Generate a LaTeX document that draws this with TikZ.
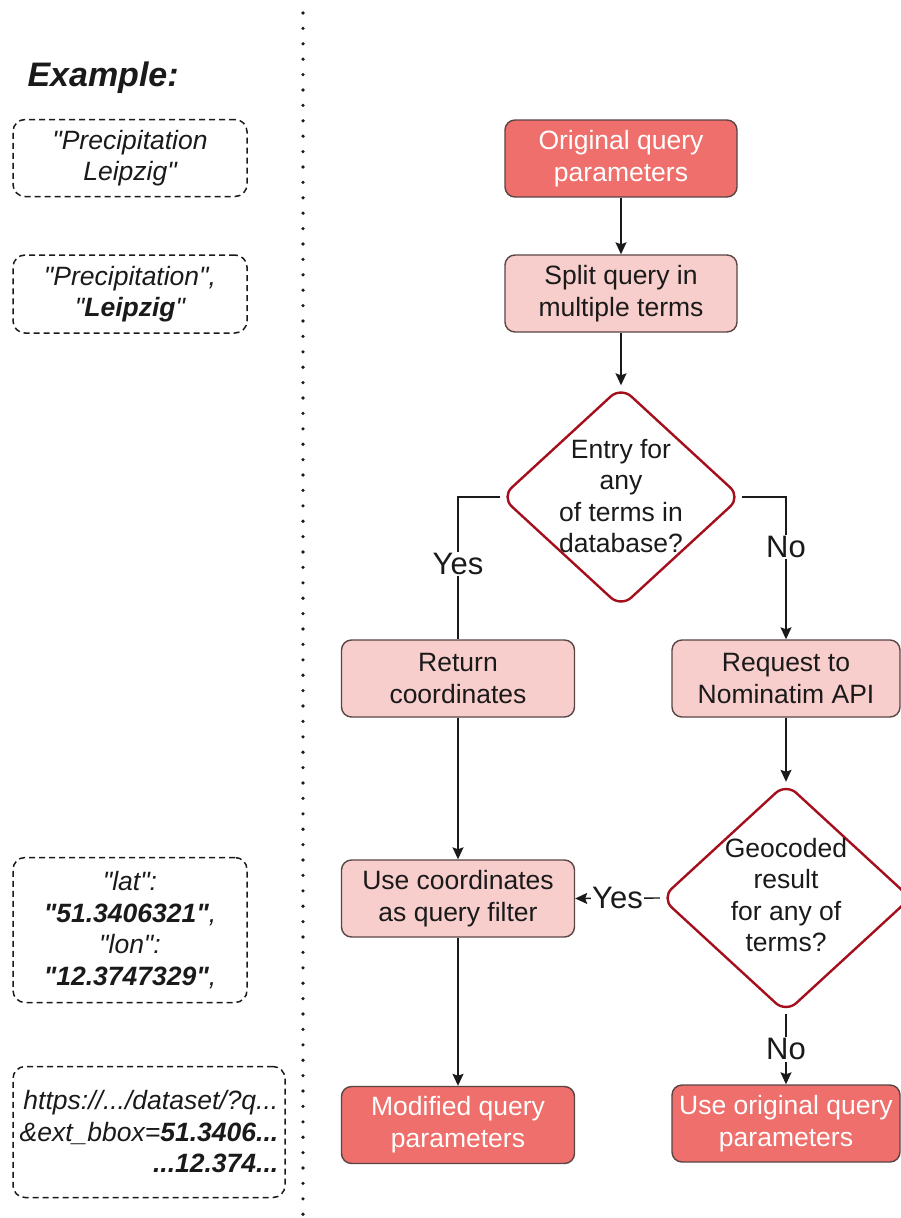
\documentclass[tikz,border=0pt]{standalone}
\usepackage{fontspec}
\setmainfont{Liberation Sans}[Ligatures=TeXOff]
\usetikzlibrary{shapes.geometric,arrows.meta}

\definecolor{boxdark}{HTML}{EE6F6B}
\definecolor{boxlight}{HTML}{F8CECC}
\definecolor{boxline}{HTML}{5A4545}
\definecolor{decline}{HTML}{A50F1C}
\definecolor{ink}{HTML}{1A1A1A}

\begin{document}
\begin{tikzpicture}[x=1pt,y=-1pt,
  every node/.style={font=\fontsize{26.5}{32}\selectfont, text=ink},
  procbox/.style={draw=boxline, line width=1.4pt, rounded corners=10pt,
    minimum width=232pt, minimum height=77pt, align=center, inner sep=0pt},
  lightbox/.style={procbox, fill=boxlight},
  darkbox/.style={procbox, fill=boxdark, text=white},
  decision/.style={shape=diamond, draw=decline, fill=white, line width=2.4pt,
    rounded corners=14pt, inner sep=0pt},
  dectext/.style={align=center, font=\fontsize{26.5}{31.5}\selectfont},
  note/.style={draw=ink, dash pattern=on 6pt off 4pt, line width=1.5pt,
    rounded corners=12pt, inner sep=0pt, align=center,
    font=\fontsize{26.5}{31.5}\selectfont\itshape},
  flow/.style={draw=ink, line width=1.4pt, -{Stealth[length=12pt,width=11pt,inset=2pt]}},
  plainflow/.style={draw=ink, line width=1.4pt},
  branch/.style={font=\fontsize{31}{31}\selectfont, fill=white, inner sep=1.5pt},
]
% canvas
\useasboundingbox (0,0) rectangle (901,1218);
\clip (0,0) rectangle (901,1218);
\fill[white] (0,0) rectangle (901,1218);

% separator between examples and flow
\draw[ink, line width=3.6pt, line cap=round, dash pattern=on 0pt off 15.4pt]
  (303,13) -- (303,1225);

% example column
\node[anchor=west, font=\fontsize{34}{40}\selectfont\bfseries\itshape]
  (extitle) at (24,78) {Example:};
\node[note, minimum width=234pt, minimum height=77pt] (ex1) at (130,158)
  {"Precipitation\\Leipzig"};
\node[note, minimum width=234pt, minimum height=78pt] (ex2) at (130,294)
  {"Precipitation",\\"\textbf{Leipzig}"};
\node[note, minimum width=234pt, minimum height=145pt] (ex3) at (130,930)
  {"lat":\\\textbf{"51.3406321"},\\"lon":\\\textbf{"12.3747329"},};
\node[note, minimum width=272pt, minimum height=131pt, align=right] (ex4) at (149,1132)
  {https://.../dataset/?q...\\\&ext\_bbox=\textbf{51.3406...}\\\textbf{...12.374...}};

% flow chart
\node[darkbox] (orig) at (621,158.5) {Original query\\parameters};
\node[lightbox] (split) at (621,293.5) {Split query in\\multiple terms};
\node[decision, minimum width=240pt, minimum height=221pt] (d1) at (621,497) {};
\node[dectext] (d1txt) at (621,496) {Entry for\\any\\of terms in\\database?};
\node[lightbox, minimum width=233pt] (ret) at (458,678.5) {Return\\coordinates};
\node[lightbox, minimum width=228pt] (req) at (786,678.5) {Request to\\Nominatim API};
\node[decision, minimum width=250pt, minimum height=230pt] (d2) at (786,898) {};
\node[dectext] (d2txt) at (786,895) {Geocoded\\result\\for any of\\terms?};
\node[lightbox, minimum width=233pt] (use) at (458,898.5) {Use coordinates\\as query filter};
\node[darkbox, minimum width=233pt] (mod) at (458,1125) {Modified query\\parameters};
\node[darkbox, minimum width=228pt] (keep) at (786,1123.5) {Use original query\\parameters};

% connectors
\draw[flow] (orig) -- (split);
\draw[flow] (split) -- (d1);
\draw[plainflow] (d1.west) -| node[branch, pos=0.736] {Yes} (ret.north);
\draw[flow] (d1.east) -| node[branch, pos=0.676] {No} (req.north);
\draw[flow] (req) -- (d2);
\draw[flow] (d2.west) -- node[branch] {Yes} (use.east);
\draw[flow] (d2.south) -- node[branch] {No} (keep.north);
\draw[flow] (ret) -- (use);
\draw[flow] (use) -- (mod);
\end{tikzpicture}
\end{document}
